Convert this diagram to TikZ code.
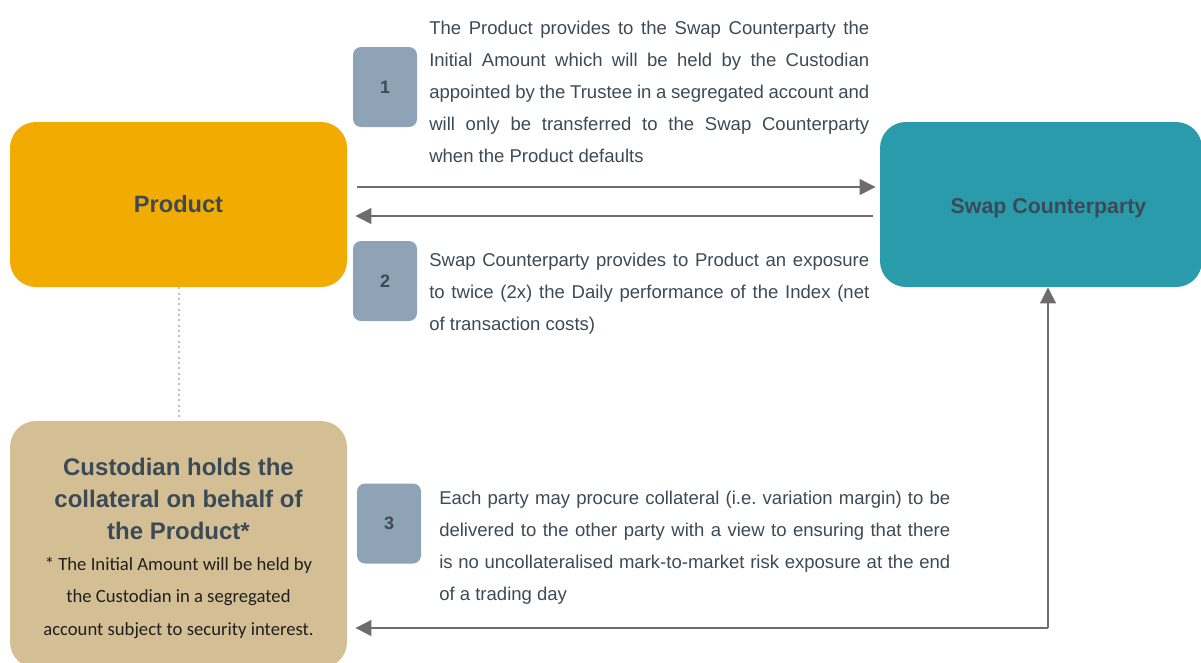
\documentclass[tikz,border=0pt]{standalone}
\usepackage{fontspec}
\setmainfont{Liberation Sans}
\newfontfamily\calfont{Carlito}
\usetikzlibrary{arrows.meta,calc}
\hyphenpenalty=10000
\exhyphenpenalty=10000
\frenchspacing
\definecolor{prodc}{HTML}{F2AB00}
\definecolor{swapc}{HTML}{2A9BAA}
\definecolor{custc}{HTML}{D4BF95}
\definecolor{badgec}{HTML}{8EA3B5}
\definecolor{darkc}{HTML}{3B4A56}
\definecolor{arrc}{HTML}{6D6D6D}
\definecolor{dotc}{HTML}{BFBFBF}
\definecolor{notec}{HTML}{1F1F1F}
\begin{document}
\begin{tikzpicture}[x=0.75pt,y=-0.75pt,
  bigbox/.style={rounded corners=19.5pt, inner sep=0pt, minimum width=252.75pt, minimum height=123.75pt, text=darkc},
  badge/.style={fill=badgec, rounded corners=6pt, minimum width=48pt, minimum height=60pt, inner sep=0pt, font=\bfseries\fontsize{13.5}{16}\selectfont, text=darkc},
  desc/.style={inner sep=0pt, anchor=base west, align=justify, text=darkc, font=\fontsize{13.9}{24}\selectfont},
  arr/.style={draw=arrc, line width=2pt, -{Triangle[length=12pt,width=11.5pt]}}
]
\useasboundingbox (0,0) rectangle (1201,662);

% boxes
\node[bigbox, fill=prodc, font=\bfseries\fontsize{17.7}{21}\selectfont] (product) at (178.5,204.5) {Product};
\node[bigbox, fill=swapc, minimum width=241.5pt] (swap) at (1041,204.5) {};
\node[anchor=base, text=darkc, font=\bfseries\fontsize{16}{19}\selectfont] (swaptxt) at (1048.5,213) {Swap Counterparty};
\node[bigbox, fill=custc, minimum height=185.25pt] (cust) at (178.5,544.5) {};
\node[anchor=base, align=center, text=darkc, font=\bfseries\fontsize{18}{24}\selectfont] (custtitle) at (178.5,539.5) {Custodian holds the\\collateral on behalf of\\the Product*};
\node[anchor=base, align=center, text=notec, font=\calfont\fontsize{14}{24.4}\selectfont] (custnote) at (178.5,635.5) {* The Initial Amount will be held by\\the Custodian in a segregated\\account subject to security interest.};

% badges
\node[badge] (b1) at (385,87) {1};
\node[badge] (b2) at (385,281) {2};
\node[badge] (b3) at (389,523.5) {3};

% descriptions
\node[desc, text width=330pt] (t1) at (429,34) {The Product provides to the Swap Counterparty the\linebreak Initial Amount which will be held by the Custodian\linebreak appointed by the Trustee in a segregated account and\linebreak will only be transferred to the Swap Counterparty\linebreak when the Product defaults};
\node[desc, text width=330pt] (t2) at (429,266) {Swap Counterparty provides to Product an exposure\linebreak to twice (2x) the Daily performance of the Index (net\linebreak of transaction costs)};
\node[desc, text width=383.25pt] (t3) at (439,504) {Each party may procure collateral (i.e. variation margin) to be\linebreak delivered to the other party with a view to ensuring that there\linebreak is no uncollateralised mark-to-market risk exposure at the end\linebreak of a trading day};

% connectors
\draw[arr, shorten <=7.5pt, shorten >=3pt] ($(product.east)+(0,-17.5)$) -- ($(swap.west)+(0,-17.5)$);
\draw[arr, shorten <=5.25pt, shorten >=6pt] ($(swap.west)+(0,11.5)$) -- ($(product.east)+(0,11.5)$);
\coordinate (c3) at (1048,628);
\draw[arr] (c3) -- (swap.south -| c3);
\draw[arr, shorten >=6pt] (c3) -- (cust.east |- c3);
\draw[dotc, line width=1.5pt, dash pattern=on 1.5pt off 2.5pt] (product.south) -- (cust.north);
\end{tikzpicture}
\end{document}
